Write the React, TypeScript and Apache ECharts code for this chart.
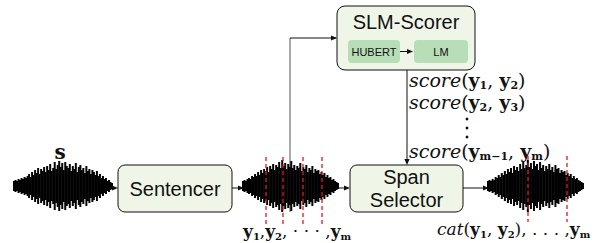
import React, { useEffect, useRef } from "react";
import * as echarts from "echarts";

// waveform half-amplitudes (px-like units)
const WAVE_IN = [5, 6, 5, 7, 6, 8, 7, 9, 8, 10, 12, 9, 14, 11, 16, 13, 18, 12, 17, 15, 19, 14, 20, 16, 22, 15, 18, 24, 17, 21, 25, 19, 23, 16, 24, 20, 18, 22, 15, 20, 17, 23, 14, 19, 21, 16, 18, 13, 20, 15, 17, 12, 16, 14, 11, 15, 10, 12, 8, 10, 7, 8, 5, 6, 4, 3];
const WAVE_MID = [5, 6, 5, 7, 8, 7, 10, 9, 12, 10, 14, 11, 16, 13, 17, 15, 19, 14, 20, 17, 22, 16, 21, 19, 24, 18, 26, 20, 23, 17, 22, 19, 25, 18, 21, 16, 20, 18, 23, 15, 19, 17, 21, 14, 18, 16, 20, 13, 17, 15, 16, 12, 14, 11, 13, 9, 11, 8, 9, 6, 7, 5, 4, 3];
const WAVE_OUT = [5, 6, 5, 7, 6, 9, 8, 11, 9, 13, 11, 15, 12, 17, 14, 18, 13, 20, 16, 19, 15, 22, 17, 24, 18, 21, 26, 19, 23, 17, 25, 20, 22, 16, 24, 18, 21, 15, 20, 17, 22, 16, 19, 14, 21, 17, 18, 13, 16, 14, 15, 11, 13, 10, 12, 8, 10, 7, 8, 6, 5, 4, 3];

const WAVES = [WAVE_IN, WAVE_MID, WAVE_OUT];
const WAVE_X = [[14, 112], [243, 338], [488, 583]];

const SANS = "Liberation Sans, Arial, sans-serif";
const SERIF = "DejaVu Serif, Liberation Serif, serif";

const arrowHead = (x: number, y: number, dir: "r" | "d", z = 20) => {
  const s = 6, h = 2.6;
  const pts =
    dir === "r"
      ? [[x, y], [x - s, y - h], [x - s, y + h]]
      : [[x, y], [x - h, y - s], [x + h, y - s]];
  return { type: "polygon", z, shape: { points: pts }, style: { fill: "#111" } };
};
const seg = (x1: number, y1: number, x2: number, y2: number, stroke = "#111", z = 20, lineWidth = 1) => ({
  type: "line", z, shape: { x1, y1, x2, y2 }, style: { stroke, lineWidth },
});
const box = (x: number, y: number, w: number, h: number, fill: string, stroke: string | null, r = 7) => ({
  type: "rect", z: 20,
  shape: { x, y, width: w, height: h, r },
  style: { fill, stroke: stroke || undefined, lineWidth: stroke ? 1 : 0 },
});
const label = (x: number, y: number, text: string, size: number, align = "center") => ({
  type: "text", z: 30, x, y,
  style: { text, fontFamily: SANS, fontSize: size, fill: "#111", align, verticalAlign: "middle" },
});
const makeRich = (fs: number) => ({
  i: { fontFamily: SERIF, fontStyle: "italic", fontSize: fs, lineHeight: fs + 3, fill: "#111", verticalAlign: "middle" },
  p: { fontFamily: SERIF, fontSize: fs, lineHeight: fs + 3, fill: "#111", verticalAlign: "middle" },
  b: { fontFamily: SERIF, fontWeight: "bold", fontSize: fs, lineHeight: fs + 3, fill: "#111", verticalAlign: "middle" },
  s: { fontFamily: SERIF, fontWeight: "bold", fontSize: Math.round(fs * 0.6), lineHeight: Math.round(fs * 0.78), fill: "#111", verticalAlign: "bottom" },
});
const math = (x: number, y: number, text: string, fs = 17) => ({
  type: "text", z: 30, x, y,
  style: { text, rich: makeRich(fs), align: "left", verticalAlign: "middle" },
});

export default function App() {
  const ref = useRef<HTMLDivElement>(null);
  useEffect(() => {
    const chart = echarts.init(ref.current!, null, { renderer: "svg" });
    const grids = WAVE_X.map(([a, b]) => ({ left: a, width: b - a, top: 160, height: 52 }));
    const xAxis = WAVES.map((w, i) => ({ type: "value", gridIndex: i, min: 0, max: w.length - 1, show: false }));
    const yAxis = WAVES.map((_, i) => ({ type: "value", gridIndex: i, min: -26, max: 26, show: false }));
    const series = WAVES.map((w, i) => ({
      type: "custom",
      xAxisIndex: i,
      yAxisIndex: i,
      z: 5,
      silent: true,
      data: w.map((a, j) => [j, a]),
      renderItem: (_p: any, api: any) => {
        const j = api.value(0), a = api.value(1);
        const p1 = api.coord([j, a]);
        const p2 = api.coord([j, -a]);
        return { type: "line", shape: { x1: p1[0], y1: p1[1], x2: p2[0], y2: p2[1] }, style: { stroke: "#000", lineWidth: 2 } };
      },
    }));
    const red = (x: number, y1: number, y2: number) => ({
      type: "line", z: 40, shape: { x1: x, y1, x2: x, y2 },
      style: { stroke: "#e8141c", lineWidth: 1.3, lineDash: [4, 3] },
    });
    const graphic: any[] = [
      // gray feed line to SLM-Scorer
      { type: "line", z: 0, shape: { x1: 290, y1: 38, x2: 290, y2: 212 }, style: { stroke: "#555", lineWidth: 1 } },
      seg(290, 38, 336, 38),
      arrowHead(337, 38, "r"),
      // boxes
      box(337, 6, 138, 64, "#eff6e8", "#111", 8),
      label(406, 22, "SLM-Scorer", 20),
      box(348, 40, 52, 23, "#b7deb7", null, 4),
      label(374, 51.5, "HUBERT", 11),
      box(414, 40, 54, 23, "#b7deb7", null, 4),
      label(441, 51.5, "LM", 11),
      seg(400, 51.5, 409, 51.5),
      arrowHead(413, 51.5, "r"),
      box(118, 165, 114, 47, "#eff6e8", "#111", 7),
      label(175, 188.5, "Sentencer", 20),
      box(350, 165, 113, 47, "#eff6e8", "#111", 7),
      label(406.5, 177, "Span", 20),
      label(406.5, 200, "Selector", 20),
      // arrows
      seg(108, 188, 112, 188), arrowHead(118, 188, "r"),
      seg(232, 188, 238, 188), arrowHead(244, 188, "r"),
      seg(336, 188, 344, 188), arrowHead(350, 188, "r"),
      seg(463, 188, 483, 188), arrowHead(489, 188, "r"),
      seg(407, 70, 407, 160), arrowHead(407, 165, "d"),
      // red split lines
      red(266, 157, 226), red(283, 157, 226), red(303, 157, 226), red(322, 157, 226),
      red(528, 156, 222), red(567, 156, 222),
      // math texts
      { type: "text", z: 30, x: 60, y: 152, style: { text: "s", fontFamily: SERIF, fontWeight: "bold", fontSize: 20, fill: "#111", align: "center", verticalAlign: "middle" } },
      math(409, 80, "{i|score}{p|(}{b|y}{s|1}{p|, }{b|y}{s|2}{p|)}", 19),
      math(409, 102, "{i|score}{p|(}{b|y}{s|2}{p|, }{b|y}{s|3}{p|)}", 19),
      { type: "circle", z: 30, shape: { cx: 467, cy: 119, r: 1.4 }, style: { fill: "#111" } },
      { type: "circle", z: 30, shape: { cx: 467, cy: 128, r: 1.4 }, style: { fill: "#111" } },
      { type: "circle", z: 30, shape: { cx: 467, cy: 137, r: 1.4 }, style: { fill: "#111" } },
      math(409, 151, "{i|score}{p|(}{b|y}{s|m−1}{p|, }{b|y}{s|m}{p|)}", 19),
      math(243, 231, "{b|y}{s|1}{p|,}{b|y}{s|2}{p|, · · · ,}{b|y}{s|m}"),
      math(437, 229, "{i|cat}{p|(}{b|y}{s|1}{p|, }{b|y}{s|2}{p|), . . . ,}{b|y}{s|m}"),
    ];
    chart.setOption({
      animation: false,
      grid: grids,
      xAxis,
      yAxis,
      series,
      graphic,
    } as any);
    return () => chart.dispose();
  }, []);
  return <div ref={ref} style={{ position: "fixed", left: 0, top: 0, width: 610, height: 243, background: "#fff" }} />;
}
